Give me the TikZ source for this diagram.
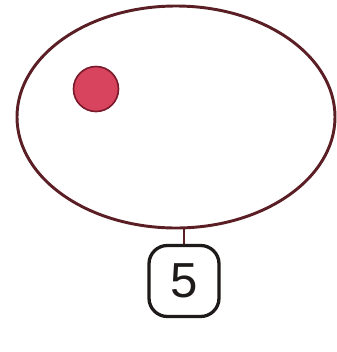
\documentclass[tikz,border=0pt]{standalone}
\usepackage{fontspec}
\setsansfont{Liberation Sans}
\usetikzlibrary{positioning, shapes.geometric}
\definecolor{crim}{HTML}{5A1E24}
\definecolor{cdot}{HTML}{D8435E}
\definecolor{cdotedge}{HTML}{7A1A2A}
\definecolor{cink}{HTML}{1E1A1A}
\tikzset{
  every picture/.style={font=\sffamily, line width=2.5pt},
  pond/.style={ellipse, draw=crim, inner sep=0pt, minimum width=318*0.03cm, minimum height=222*0.03cm},
  spot/.style={circle, draw=cdotedge, fill=cdot, line width=1.4pt, inner sep=0pt, minimum size=45*0.03cm},
  tag/.style={draw=cink, line width=2.8pt, rounded corners=0.55cm, inner sep=0pt, minimum width=70*0.03cm, minimum height=71*0.03cm, font=\sffamily\fontsize{42}{42}\selectfont},
  stem/.style={draw=crim, line width=2.2pt},
}

\begin{document}
\begin{tikzpicture}[x=0.03cm, y=-0.03cm]
  \useasboundingbox (0,0) rectangle (337,352);
  \node[pond] (oval) at (176,117) {};
  \node[spot] (dot) at (96,89) {};
  \node[tag, text=cink] (five) at (184,281) {5};
  \draw[stem] (five.north) -- (five.north |- oval.south);
\end{tikzpicture}
\end{document}
